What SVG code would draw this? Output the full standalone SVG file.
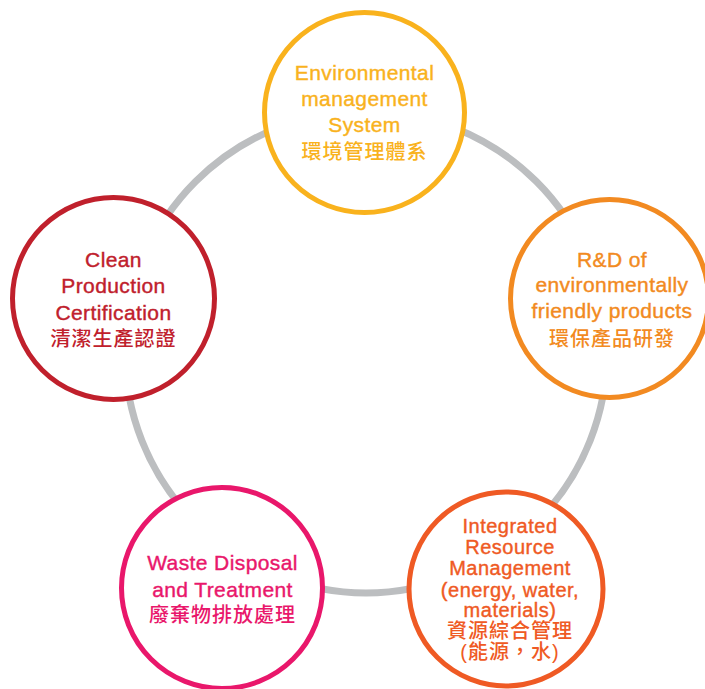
<svg xmlns="http://www.w3.org/2000/svg" width="705" height="689" viewBox="0 0 705 689">
<style>
.ring{fill:#fff;stroke-width:5}
.en{font-family:"Liberation Sans",Arial,sans-serif;font-size:21px;letter-spacing:0.4px;text-anchor:middle;stroke-width:0.4px}
.en2{font-family:"Liberation Sans",Arial,sans-serif;font-size:20px;letter-spacing:0.5px;text-anchor:middle;stroke-width:0.4px}
.zh{font-family:"Liberation Sans","Noto Sans CJK TC",sans-serif;font-size:20px;font-weight:500;letter-spacing:1px;text-anchor:middle}
</style>
<rect width="705" height="689" fill="#fff"/>
<g id="connectors">
<circle cx="366" cy="352" r="241" fill="none" stroke="#BCBEC0" stroke-width="7"/>
</g>
<g id="node-ems" fill="#F9B21D" stroke="#F9B21D">
<circle class="ring" cx="364.5" cy="112.5" r="100"/>
<text class="en" x="364.5" y="80">Environmental</text>
<text class="en" x="364.5" y="106">management</text>
<text class="en" x="364.5" y="132">System</text>
<text class="zh" x="364.5" y="159" stroke="none">環境管理體系</text>
</g>
<g id="node-rd" fill="#F28A21" stroke="#F28A21">
<circle class="ring" cx="609.5" cy="298.5" r="99"/>
<text class="en" x="612" y="267">R&amp;D of</text>
<text class="en" x="612" y="292">environmentally</text>
<text class="en" x="612" y="318">friendly products</text>
<text class="zh" x="612" y="346" stroke="none">環保產品研發</text>
</g>
<g id="node-irm" fill="#EF5A24" stroke="#EF5A24">
<circle class="ring" cx="506" cy="589" r="97"/>
<text class="en2" x="510" y="533">Integrated</text>
<text class="en2" x="510" y="554">Resource</text>
<text class="en2" x="510" y="575">Management</text>
<text class="en2" x="510" y="596.5">(energy, water,</text>
<text class="en2" x="510" y="617">materials)</text>
<text class="zh" x="510" y="638" stroke="none">資源綜合管理</text>
<text class="zh" x="510" y="659" stroke="none">(能源，水)</text>
</g>
<g id="node-waste" fill="#E9176B" stroke="#E9176B">
<circle class="ring" cx="222" cy="588" r="100.5"/>
<text class="en" x="222.5" y="570">Waste Disposal</text>
<text class="en" x="222.5" y="597">and Treatment</text>
<text class="zh" x="222.5" y="622" stroke="none">廢棄物排放處理</text>
</g>
<g id="node-clean" fill="#C0202C" stroke="#C0202C">
<circle class="ring" cx="113.5" cy="298.5" r="101"/>
<text class="en" x="113.5" y="267">Clean</text>
<text class="en" x="113.5" y="293">Production</text>
<text class="en" x="113.5" y="320">Certification</text>
<text class="zh" x="113.5" y="346" stroke="none">清潔生產認證</text>
</g>
</svg>
